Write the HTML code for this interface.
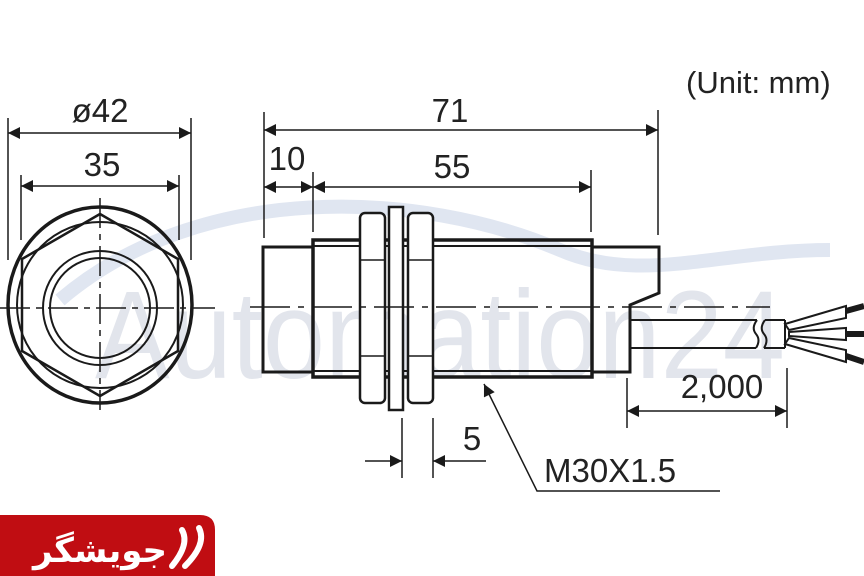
<!DOCTYPE html>
<html><head><meta charset="utf-8"><style>
html,body{margin:0;padding:0;background:#fff;}
svg{display:block;}
</style></head><body>
<svg width="864" height="576" viewBox="0 0 864 576" xmlns="http://www.w3.org/2000/svg">
<defs>
<marker id="a" viewBox="0 0 10 10" refX="10" refY="5" markerWidth="22" markerHeight="12" markerUnits="userSpaceOnUse" orient="auto-start-reverse"><path d="M0,0L10,5L0,10z" fill="#1a1a1a"/></marker>
</defs>
<!-- watermark -->
<path d="M60,300 C200,180 420,190 560,250 C640,285 720,250 830,250" fill="none" stroke="#e0e6f1" stroke-width="14"/>
<text x="95" y="378" font-family="Liberation Sans, sans-serif" font-size="125" fill="#e2e5ec" textLength="690" lengthAdjust="spacingAndGlyphs">Automation24</text>

<g fill="none" stroke="#1a1a1a" stroke-linecap="butt">
<ellipse cx="100" cy="305" rx="92" ry="98" stroke-width="3.5"/>
<polygon points="100,214 178,259 178,351 100,396 22,351 22,259" stroke-width="2.5"/>
<circle cx="100" cy="305" r="83" stroke-width="2"/>
<circle cx="100" cy="308" r="57" stroke-width="2"/>
<circle cx="100" cy="308" r="50" stroke-width="2"/>
<line x1="0" y1="308" x2="215" y2="308" stroke-width="1.5" stroke-dasharray="30,6,6,6"/>
<line x1="100" y1="198" x2="100" y2="410" stroke-width="1.5" stroke-dasharray="30,6,6,6"/>
<g stroke-width="1.5">
<line x1="8" y1="118" x2="8" y2="260"/><line x1="191" y1="118" x2="191" y2="260"/>
<line x1="21" y1="175" x2="21" y2="240"/><line x1="179" y1="175" x2="179" y2="240"/>
<line x1="8" y1="133" x2="191" y2="133" marker-start="url(#a)" marker-end="url(#a)"/>
<line x1="21" y1="186" x2="179" y2="186" marker-start="url(#a)" marker-end="url(#a)"/>
</g>
<rect x="263" y="247" width="50" height="125" stroke-width="3"/>
<rect x="313" y="240" width="279" height="137" stroke-width="3.5"/>
<line x1="313" y1="246" x2="592" y2="246" stroke-width="2"/>
<line x1="313" y1="371" x2="592" y2="371" stroke-width="2"/>
<polygon points="592,247 659,247 659,293 630,305 630,372 592,372" stroke-width="3"/>
<rect x="360" y="213" width="25" height="190" rx="5" fill="#fff" stroke-width="2.5"/>
<rect x="408" y="213" width="25" height="190" rx="5" fill="#fff" stroke-width="2.5"/>
<rect x="389" y="207" width="14" height="203" fill="#fff" stroke-width="2.5"/>
<line x1="360" y1="260" x2="385" y2="260" stroke-width="1.5"/><line x1="360" y1="356" x2="385" y2="356" stroke-width="1.5"/>
<line x1="408" y1="260" x2="433" y2="260" stroke-width="1.5"/><line x1="408" y1="356" x2="433" y2="356" stroke-width="1.5"/>
<line x1="385" y1="240" x2="389" y2="240" stroke-width="3"/><line x1="403" y1="240" x2="408" y2="240" stroke-width="3"/>
<line x1="385" y1="377" x2="389" y2="377" stroke-width="3"/><line x1="403" y1="377" x2="408" y2="377" stroke-width="3"/>
<line x1="250" y1="307" x2="770" y2="307" stroke-width="1.5" stroke-dasharray="40,8,6,8"/>
<g stroke-width="2">
<line x1="630" y1="320" x2="757" y2="320"/><line x1="630" y1="348" x2="756" y2="348"/>
<path d="M757,320 q-6,8 -1,14 q5,6 0,14"/>
<path d="M765,320 q-6,8 -1,14 q5,6 0,14"/>
<line x1="765" y1="320" x2="785" y2="320"/><line x1="764" y1="348" x2="785" y2="348"/>
<line x1="785" y1="320" x2="785" y2="348"/>
<polygon points="785,324 846,306 846,318 789,330"/>
<polygon points="789,332 846,328 846,340 789,336"/>
<polygon points="789,338 846,350 846,362 785,344"/>
</g>
<g stroke-width="6">
<line x1="846" y1="311" x2="864" y2="306"/>
<line x1="846" y1="334" x2="864" y2="334"/>
<line x1="846" y1="356" x2="864" y2="362"/>
</g>
<g stroke-width="1.5">
<line x1="264" y1="112" x2="264" y2="238"/><line x1="658" y1="110" x2="658" y2="235"/>
<line x1="313" y1="172" x2="313" y2="232"/><line x1="591" y1="170" x2="591" y2="232"/>
<line x1="264" y1="130" x2="658" y2="130" marker-start="url(#a)" marker-end="url(#a)"/>
<line x1="313" y1="187" x2="591" y2="187" marker-start="url(#a)" marker-end="url(#a)"/>
<line x1="264" y1="187" x2="289" y2="187" marker-start="url(#a)"/>
<line x1="289" y1="187" x2="313" y2="187" marker-end="url(#a)"/>
<line x1="627" y1="378" x2="627" y2="428"/><line x1="787" y1="368" x2="787" y2="428"/>
<line x1="627" y1="411" x2="787" y2="411" marker-start="url(#a)" marker-end="url(#a)"/>
<line x1="402" y1="418" x2="402" y2="478"/><line x1="433" y1="418" x2="433" y2="478"/>
<line x1="365" y1="461" x2="402" y2="461" marker-end="url(#a)"/>
<line x1="486" y1="461" x2="433" y2="461" marker-end="url(#a)"/>
<polyline points="720,491 537,491 484,384" marker-end="url(#a)"/>
</g>
</g>
<g font-family="Liberation Sans, sans-serif" fill="#222" font-size="33">
<text x="100" y="122" text-anchor="middle">ø42</text>
<text x="102" y="176" text-anchor="middle">35</text>
<text x="450" y="122" text-anchor="middle">71</text>
<text x="452" y="178" text-anchor="middle">55</text>
<text x="287" y="170" text-anchor="middle">10</text>
<text x="722" y="398" text-anchor="middle">2,000</text>
<text x="472" y="450" text-anchor="middle">5</text>
<text x="544" y="482">M30X1.5</text>
<text x="686" y="93" font-size="31">(Unit: mm)</text>
</g>
<path d="M0,515 H200 Q215,515 215,530 V576 H0 Z" fill="#c00d12"/>
<text x="100" y="562" text-anchor="middle" font-family="DejaVu Sans, sans-serif" font-weight="bold" font-size="34" fill="#fff">جویشگر</text>
<path d="M182,530 q8,14 -10,36 M199,528 q8,16 -14,38" fill="none" stroke="#fff" stroke-width="6" stroke-linecap="round"/>
</svg>
</body></html>
